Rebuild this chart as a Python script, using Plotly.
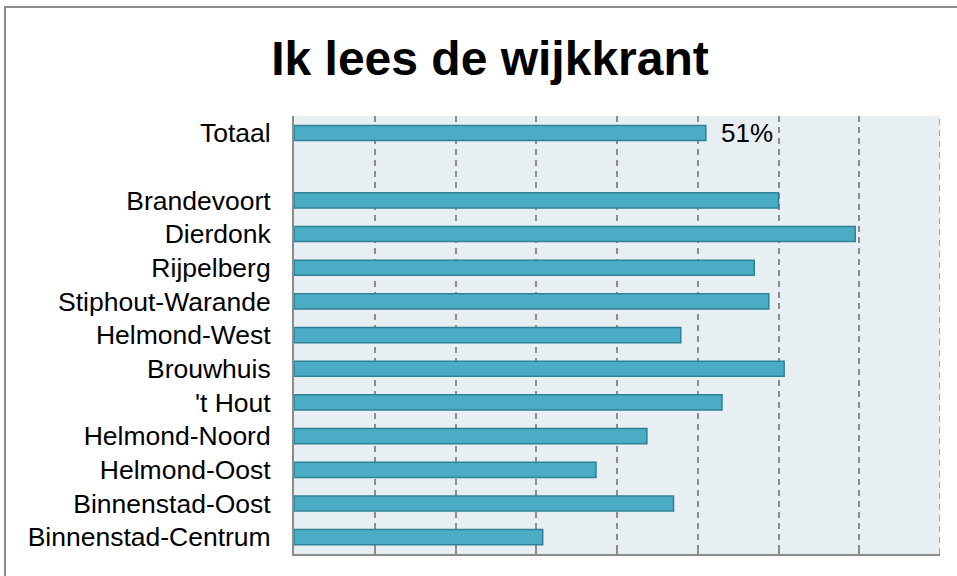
import plotly.graph_objects as go

# categories top to bottom (" " slot is the empty gap under Totaal)
wijken = ["Totaal", " ", "Brandevoort", "Dierdonk", "Rijpelberg", "Stiphout-Warande",
          "Helmond-West", "Brouwhuis", "'t Hout", "Helmond-Noord", "Helmond-Oost",
          "Binnenstad-Oost", "Binnenstad-Centrum"]
percentages = [51, None, 60, 69.5, 57, 58.8, 47.9, 60.7, 53, 43.7, 37.4, 47, 30.8]
totaal_label = "51%"
x_max = 80

W, H = 957, 576
L, R, T, B = 294, 17, 116, 22
pw, ph = W - L - R, H - T - B
FONT = "Liberation Sans, Arial"
GRID = "#8C8C8C"

fig = go.Figure()
fig.add_trace(go.Bar(
    x=percentages, y=wijken, orientation="h",
    width=0.45,
    marker=dict(color="#4BACC6", line=dict(color="#2F8197", width=1.5)),
    hoverinfo="x+y",
))

# value label for Totaal
fig.add_annotation(x=percentages[0], y=wijken[0], text=totaal_label,
                   showarrow=False, xanchor="left", xshift=13,
                   font=dict(size=26, color="#000000", family=FONT))

# dashed gridline on the right edge of the plot area
fig.add_shape(type="line", xref="x", yref="paper", x0=x_max, x1=x_max, y0=0, y1=1,
              line=dict(color=GRID, width=1.5, dash="6px,5px"))

# outer chart frame (top and left edges visible, rest runs off the page)
fig.add_shape(type="rect", xref="paper", yref="paper",
              x0=(5 - L) / pw, x1=(W + 20 - L) / pw,
              y0=(H - B - (H + 20)) / ph, y1=(H - B - 7) / ph,
              line=dict(color=GRID, width=2), fillcolor="rgba(0,0,0,0)",
              layer="below")

fig.update_layout(
    width=W, height=H,
    margin=dict(l=L, r=R, t=T, b=B),
    paper_bgcolor="white",
    plot_bgcolor="#E8EFF3",
    showlegend=False,
    title=dict(text="<b>Ik lees de wijkkrant</b>", x=490 / W, xanchor="center",
               y=1 - 58 / H, yanchor="middle",
               font=dict(size=48, color="#000000", family=FONT)),
    font=dict(family=FONT, size=26, color="#000000"),
)
fig.update_xaxes(range=[0, x_max], dtick=10, showticklabels=False,
                 showgrid=True, griddash="6px,5px", gridcolor=GRID, gridwidth=1.5,
                 showline=True, linecolor=GRID, linewidth=2,
                 ticks="inside", ticklen=6, tickcolor=GRID, tickwidth=1.5,
                 zeroline=False, fixedrange=True)
fig.update_yaxes(autorange="reversed", showgrid=False,
                 showline=True, linecolor=GRID, linewidth=2,
                 ticks="", ticklabelstandoff=16,
                 tickfont=dict(size=26.5, color="#000000", family=FONT), fixedrange=True)

fig.write_html("out.html", config={"displayModeBar": False},
               post_script="document.body.style.margin='0';")
